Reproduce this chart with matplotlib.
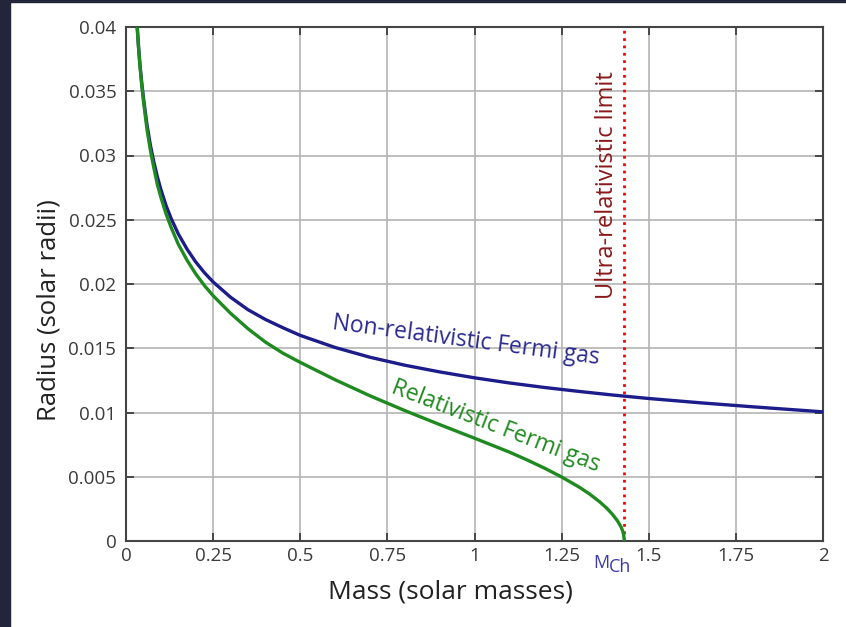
import numpy as np
import matplotlib
matplotlib.use("Agg")
import matplotlib.pyplot as plt
from matplotlib.patches import Rectangle

plt.rcParams['font.family'] = ['Open Sans', 'DejaVu Sans']

# mass (solar masses) and radius (solar radii)
mass_nonrel = [0.03, 0.036, 0.04, 0.045, 0.05, 0.06, 0.07, 0.08, 0.09, 0.1, 0.115, 0.13,
               0.15, 0.175, 0.2, 0.225, 0.25, 0.3, 0.35, 0.4, 0.45, 0.5, 0.6, 0.7, 0.8,
               0.9, 1.0, 1.1, 1.2, 1.3, 1.4, 1.5, 1.65, 1.8, 2.0]
radius_nonrel = [0.0409, 0.03847, 0.0371, 0.0357, 0.0345, 0.03243, 0.0308, 0.02948, 0.02834,
                 0.02736, 0.0261, 0.02507, 0.0239, 0.02272, 0.02172, 0.02088, 0.02016,
                 0.01897, 0.0180, 0.01724, 0.0166, 0.0160, 0.01506, 0.0143, 0.01368,
                 0.01316, 0.0127, 0.0123, 0.01195, 0.01164, 0.01135, 0.01109, 0.01075,
                 0.01044, 0.01005]

mass_rel = [0.03, 0.036, 0.04, 0.045, 0.05, 0.06, 0.07, 0.08, 0.09, 0.1, 0.115, 0.13,
            0.15, 0.175, 0.2, 0.225, 0.25, 0.3, 0.35, 0.4, 0.45, 0.5, 0.6, 0.7, 0.8,
            0.9, 1.0, 1.1, 1.15, 1.2, 1.25, 1.3, 1.33, 1.36, 1.38, 1.395, 1.41, 1.42,
            1.425, 1.428, 1.43]
radius_rel = [0.0408, 0.03838, 0.03695, 0.03552, 0.03426, 0.03208, 0.0304, 0.02903, 0.02773,
              0.02676, 0.02545, 0.02437, 0.0231, 0.02186, 0.02079, 0.01988, 0.01909,
              0.01772, 0.01652, 0.01548, 0.01462, 0.0139, 0.01255, 0.0113, 0.01015,
              0.00906, 0.0080, 0.00692, 0.00632, 0.00568, 0.00498, 0.0042, 0.00366,
              0.00303, 0.00254, 0.0021, 0.00158, 0.00112, 0.0008, 0.0005, 0.0]

m_ch = 1.43

fig = plt.figure(figsize=(8.46, 6.27), dpi=100, facecolor="white")
# dark border strips of the screenshot
fig.patches.append(Rectangle((0, 0), 10/846, 1, transform=fig.transFigure,
                             color="#23263a", zorder=0))
fig.patches.append(Rectangle((0, 1 - 2/627), 1, 2/627, transform=fig.transFigure,
                             color="#23263a", zorder=0))

ax = fig.add_axes([126/846, 86/627, 697/846, 514/627])

ax.plot(mass_nonrel, radius_nonrel, color="#1c1c8a", lw=2.4, zorder=3)
ax.plot(mass_rel, radius_rel, color="#1f8a1f", lw=2.4, zorder=3)
ax.axvline(m_ch, color="red", ls=":", lw=2, zorder=2)

ax.set_xlim(0, 2)
ax.set_ylim(0, 0.04)
ax.set_xticks([0, 0.25, 0.5, 0.75, 1, 1.25, 1.5, 1.75, 2])
ax.set_xticklabels(["0", "0.25", "0.5", "0.75", "1", "1.25", "1.5", "1.75", "2"])
ax.set_yticks([0, 0.005, 0.01, 0.015, 0.02, 0.025, 0.03, 0.035, 0.04])
ax.set_yticklabels(["0", "0.005", "0.01", "0.015", "0.02", "0.025", "0.03", "0.035", "0.04"])
ax.tick_params(direction="in", length=6, width=1.2, top=True, right=True,
               labelsize=13.5, labelcolor="#3a3a3a", color="#333333")
ax.tick_params(axis="x", pad=4)
ax.tick_params(axis="y", pad=7)
ax.grid(True, color="#b4b4b4", lw=1.2)
for s in ax.spines.values():
    s.set_color("#444444")
    s.set_linewidth(1.5)

ax.set_xlabel("Mass (solar masses)", fontsize=19, color="#222222")
ax.set_ylabel("Radius (solar radii)", fontsize=18.5, color="#222222")
ax.xaxis.set_label_coords((450 - 126) / 697, -0.075)
ax.yaxis.set_label_coords(-0.093, 0.449)

ax.text(0.975, 0.0156, "Non-relativistic Fermi gas", color="#2a2a90", fontsize=16.5,
        rotation=-7.5, ha="center", va="center", rotation_mode="anchor")
ax.text(1.06, 0.0089, "Relativistic Fermi gas", color="#1f8a1f", fontsize=16.5,
        rotation=-21, ha="center", va="center", rotation_mode="anchor")
ax.text(1.38, 0.0277, "Ultra-relativistic limit", color="#8b1a1a", fontsize=17,
        rotation=90, ha="center", va="center")
ax.text(1.386, -0.0010, "M", color="#3a3aa8", fontsize=13, ha="right", va="top")
ax.text(1.386, -0.0013, "Ch", color="#3a3aa8", fontsize=13, ha="left", va="top")

plt.savefig("out.png", dpi=100, facecolor=fig.get_facecolor())
